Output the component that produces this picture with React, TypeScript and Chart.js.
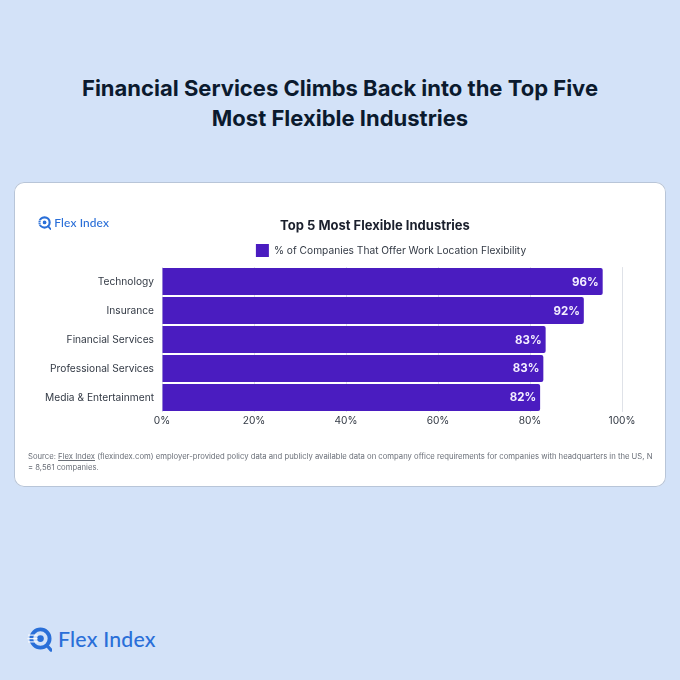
import React, { useEffect, useRef } from "react";
import { Chart, registerables } from "chart.js";

Chart.register(...registerables);

const categories = ["Technology", "Insurance", "Financial Services", "Professional Services", "Media & Entertainment"];
const flexibility = [95.8, 91.7, 83.4, 82.9, 82.2];
const valueLabels = ["96%", "92%", "83%", "83%", "82%"];
const seriesName = "% of Companies That Offer Work Location Flexibility";
const chartTitle = "Top 5 Most Flexible Industries";
const titleLines = ["Financial Services Climbs Back into the Top Five", "Most Flexible Industries"];

const FONT = "Inter, 'Noto Sans', sans-serif";
const PURPLE = "#4a1cc0";
const BLUE = "#2a6fd8";

const barLabels = {
  id: "barLabels",
  afterDatasetsDraw(chart: any) {
    const { ctx } = chart;
    const meta = chart.getDatasetMeta(0);
    ctx.save();
    ctx.fillStyle = "#f4efff";
    ctx.font = `700 11.5px ${FONT}`;
    ctx.textAlign = "right";
    ctx.textBaseline = "middle";
    meta.data.forEach((el: any, i: number) => ctx.fillText(valueLabels[i], el.x - 4, el.y + 0.5));
    ctx.restore();
  },
};

const headerShift = {
  id: "headerShift",
  afterLayout(chart: any) {
    const t = chart.titleBlock;
    if (t) {
      t.left -= 17;
      t.right -= 17;
    }
    const l = chart.legend;
    if (l) {
      l.left -= 1;
      l.right -= 1;
    }
  },
};

function Logo({ size, color }: { size: number; color: string }) {
  return (
    <div style={{ display: "flex", alignItems: "center", gap: size * 0.24, color }}>
      <svg width={size} height={size} viewBox="0 0 26 26" style={{ flex: "none" }}>
        <circle cx="14" cy="12" r="9.5" fill="none" stroke={color} strokeWidth="4" />
        <circle cx="14" cy="12" r="3.5" fill={color} />
        <path d="M20.5 19 L25 24" stroke={color} strokeWidth="3.4" strokeLinecap="round" />
        <path d="M1 8.5H11M0.5 12H11M1 15.5H11" stroke="#fff" strokeWidth="1.3" opacity="0.85" />
      </svg>
      <span style={{ font: `500 ${size * 0.85}px Lato, 'Noto Sans', sans-serif`, letterSpacing: "0.01em", whiteSpace: "nowrap" }}>
        Flex Index
      </span>
    </div>
  );
}

export default function App() {
  const ref = useRef<HTMLCanvasElement>(null);

  useEffect(() => {
    const chart = new Chart(ref.current!, {
      type: "bar",
      data: {
        labels: categories,
        datasets: [
          {
            label: seriesName,
            data: flexibility,
            backgroundColor: PURPLE,
            borderRadius: 2,
            categoryPercentage: 1,
            barPercentage: 0.93,
          },
        ],
      },
      plugins: [barLabels, headerShift],
      options: {
        indexAxis: "y",
        animation: false,
        responsive: false,
        devicePixelRatio: 1,
        layout: { padding: { top: 36, left: 0, right: 44, bottom: 54 } },
        plugins: {
          title: {
            display: true,
            text: chartTitle,
            fullSize: false,
            color: "#1a1f2c",
            font: { family: FONT, size: 13, weight: "bold" },
            padding: { top: 0, bottom: 5 },
          },
          legend: {
            display: true,
            fullSize: false,
            labels: {
              color: "#333a45",
              font: { family: FONT, size: 10.2 },
              boxWidth: 13,
              boxHeight: 13,
              padding: 5.5,
            },
          },
          tooltip: { enabled: false },
        },
        scales: {
          x: {
            min: 0,
            max: 100,
            afterFit(s: any) {
              s.height = 20;
            },
            ticks: {
              stepSize: 20,
              maxRotation: 0,
              padding: 3,
              color: "#333a45",
              font: { family: FONT, size: 10.2 },
              callback: (v: any) => `${v}%`,
            },
            grid: { color: "#dfe2e8", drawTicks: false },
            border: { display: false },
          },
          y: {
            afterFit(s: any) {
              s.width = 148;
            },
            ticks: { padding: 8, color: "#333a45", font: { family: FONT, size: 10.2 } },
            grid: { display: false, drawTicks: false },
            border: { display: false },
          },
        },
      } as any,
    });
    return () => chart.destroy();
  }, []);

  return (
    <div style={{ position: "fixed", left: 0, top: 0, width: 680, height: 680, background: "#d3e2f8", overflow: "hidden", fontFamily: FONT }}>
      {titleLines.map((line, i) => (
        <div
          key={line}
          style={{
            position: "absolute",
            left: 0,
            width: 680,
            top: 73 + i * 30,
            height: 30,
            lineHeight: "30px",
            textAlign: "center",
            fontWeight: 700,
            fontSize: 22,
            color: "#0b1a2e",
            whiteSpace: "nowrap",
          }}
        >
          {line}
        </div>
      ))}
      <div
        style={{
          position: "absolute",
          left: 14,
          top: 182,
          width: 652,
          height: 305,
          boxSizing: "border-box",
          background: "#fff",
          borderRadius: 10,
          boxShadow: "0 0 0 1px #b8c5d8 inset",
        }}
      />
      <canvas ref={ref} width={652} height={304} style={{ position: "absolute", left: 14, top: 182, width: 652, height: 304 }} />
      <div style={{ position: "absolute", left: 37, top: 215 }}>
        <Logo size={14} color={BLUE} />
      </div>
      <div
        style={{
          position: "absolute",
          left: 28,
          top: 451,
          width: 630,
          fontSize: 7.7,
          lineHeight: "11px",
          color: "#6a6f78",
          whiteSpace: "nowrap",
        }}
      >
        Source: <span style={{ textDecoration: "underline" }}>Flex Index</span> (flexindex.com) employer-provided policy data and publicly available data on company office requirements for companies with headquarters in the US, N
        <br />= 8,561 companies.
      </div>
      <div style={{ position: "absolute", left: 27, top: 626 }}>
        <Logo size={25} color={BLUE} />
      </div>
    </div>
  );
}
